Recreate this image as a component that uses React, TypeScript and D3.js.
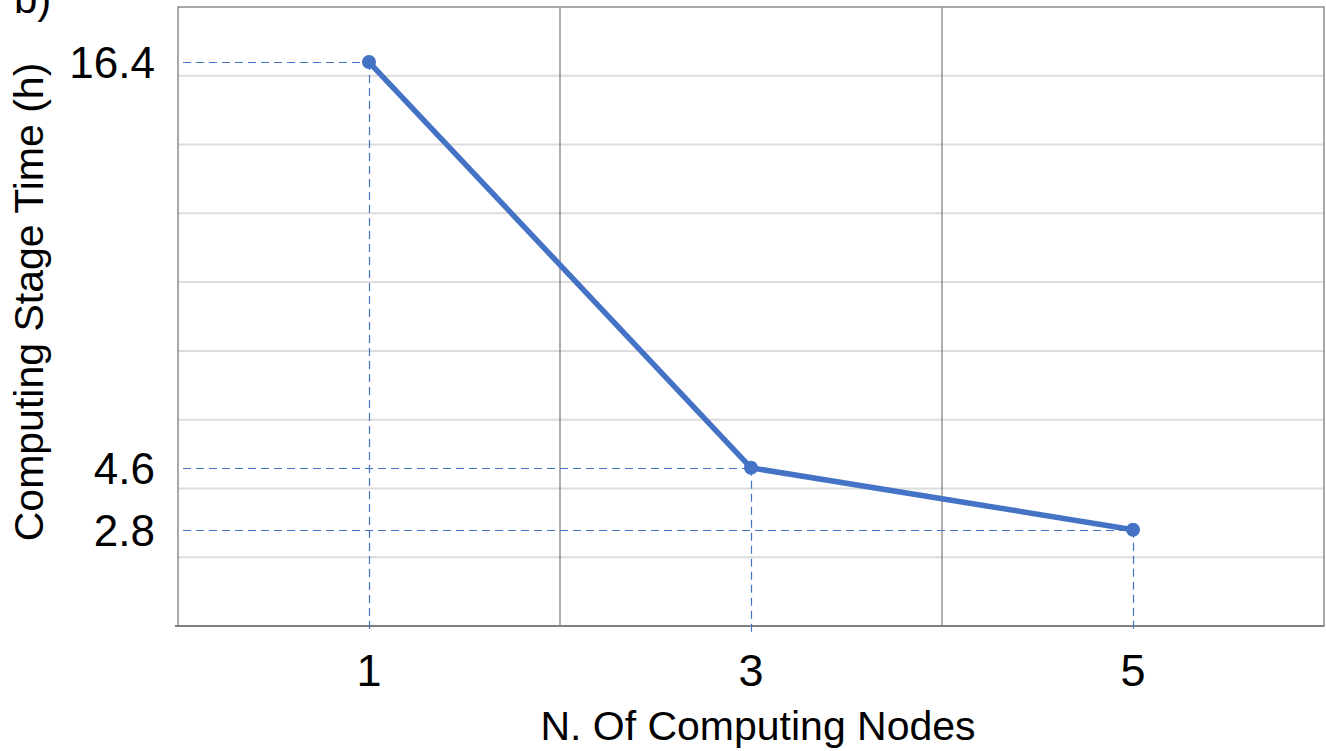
import React from 'react'
import * as d3 from 'd3'

const nodes = [1, 3, 5]
const hours = [16.4, 4.6, 2.8]
const yGridTicks = [2, 4, 6, 8, 10, 12, 14, 16]
const xGridTicks = [2, 4]

const width = 1326
const height = 751
const plotLeft = 178
const plotRight = 1324
const plotTop = 7
const plotBottom = 626

const font = '"Liberation Sans", Arial, sans-serif'
const blue = '#4472C4'

const xScale = d3.scaleLinear().domain([0, 6]).range([plotLeft, plotRight])
const yScale = d3.scaleLinear().domain([0, 18]).range([plotBottom, plotTop])

const points = nodes.map((n, i) => ({ n, h: hours[i] }))

const lineGen = d3
  .line<{ n: number; h: number }>()
  .x(d => xScale(d.n))
  .y(d => yScale(d.h))

const App = () => (
  <svg
    width={width}
    height={height}
    style={{ position: 'absolute', left: 0, top: 0, display: 'block', background: '#fff' }}
  >
    <text x={14} y={13} fontFamily={font} fontSize={42} fill='#000'>
      b)
    </text>

    {/* horizontal grid */}
    {yGridTicks.map(t => (
      <line
        key={'hy' + t}
        x1={plotLeft}
        x2={plotRight}
        y1={yScale(t)}
        y2={yScale(t)}
        stroke='#dcdcdc'
        strokeWidth={2}
      />
    ))}

    {/* vertical grid */}
    {xGridTicks.map(t => (
      <line
        key={'vx' + t}
        x1={xScale(t)}
        x2={xScale(t)}
        y1={plotTop}
        y2={plotBottom}
        stroke='#7a7a7a'
        strokeWidth={1.2}
      />
    ))}

    {/* frame */}
    <rect
      x={plotLeft}
      y={plotTop}
      width={plotRight - plotLeft}
      height={plotBottom - plotTop}
      fill='none'
      stroke='#8c8c8c'
      strokeWidth={1.5}
    />
    <line x1={plotLeft - 3} x2={plotRight} y1={plotBottom} y2={plotBottom} stroke='#808080' strokeWidth={2} />

    {/* dashed guides */}
    {points.map(p => (
      <g key={'g' + p.n}>
        <line
          x1={plotLeft + 5}
          x2={xScale(p.n)}
          y1={Math.round(yScale(p.h)) + 0.5}
          y2={Math.round(yScale(p.h)) + 0.5}
          stroke={blue}
          strokeWidth={1.2}
          strokeDasharray='8,5'
        />
        <line
          x1={Math.round(xScale(p.n)) + 0.5}
          x2={Math.round(xScale(p.n)) + 0.5}
          y1={yScale(p.h)}
          y2={plotBottom + 6}
          stroke={blue}
          strokeWidth={1.2}
          strokeDasharray='8,5'
        />
      </g>
    ))}

    <path d={lineGen(points) ?? ''} fill='none' stroke={blue} strokeWidth={5.5} strokeLinejoin='round' />
    {points.map(p => (
      <circle key={'c' + p.n} cx={xScale(p.n)} cy={yScale(p.h)} r={7} fill={blue} />
    ))}

    {/* y tick labels at the data values */}
    {hours.map(h => (
      <text
        key={'yl' + h}
        x={155}
        y={yScale(h)}
        dy='0.36em'
        textAnchor='end'
        fontFamily={font}
        fontSize={44}
        fill='#000'
      >
        {h.toFixed(1)}
      </text>
    ))}

    {/* x tick labels */}
    {nodes.map(n => (
      <text
        key={'xl' + n}
        x={xScale(n)}
        y={686}
        textAnchor='middle'
        fontFamily={font}
        fontSize={45}
        fill='#000'
      >
        {n}
      </text>
    ))}

    <text x={758} y={740} textAnchor='middle' fontFamily={font} fontSize={41} fill='#000'>
      N. Of Computing Nodes
    </text>

    <text
      transform={`translate(43, ${302}) rotate(-90)`}
      textAnchor='middle'
      fontFamily={font}
      fontSize={41}
      fill='#000'
    >
      Computing Stage Time (h)
    </text>
  </svg>
)

export default App
